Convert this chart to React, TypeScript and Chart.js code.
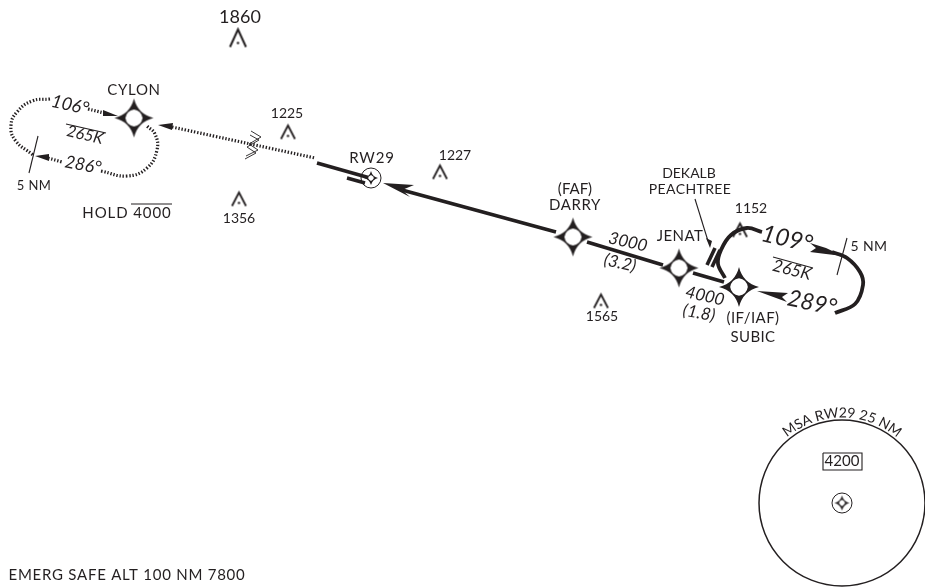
import React, { useEffect, useRef } from "react";
import { Chart, registerables } from "chart.js";

Chart.register(...registerables);

type P = [number, number];
const INK = "#231f20";
const FONT = "Lato, 'Noto Sans', sans-serif";

// ---- values (in plan-view units) ----
const waypoints: P[] = [[134, 118], [573, 237], [679, 268]];
const subic: P[] = [[739, 287]];
const rwFix: P[] = [[371, 178]];
const msaFix: P[] = [[842, 503]];
const msaCircle: P[] = [[842, 503]];
const bigObstacle: P[] = [[238, 38]];
const obstacles: P[] = [[288, 132], [239, 199], [440, 172], [601, 301], [740, 230]];

const holdWestOutbound: P[] = [[50, 99], [32, 101], [17, 112], [11, 125], [15, 140], [33, 155]];
const holdWestOutboundEnd: P[] = [[88, 109], [104, 113]];
const holdWestInboundStart: P[] = [[48, 158], [62, 162]];
const holdWestInbound: P[] = [[101, 171], [127, 176], [147, 168], [157, 150], [155, 134], [147, 126]];
const inboundDotted: P[] = [[172, 127], [315, 158]];
const finalLeg: P[] = [[317, 163], [370, 178]];
const stub: P[] = [[347, 178], [365, 183]];
const dotted: P[][] = [holdWestOutbound, holdWestOutboundEnd, holdWestInboundStart, holdWestInbound, inboundDotted];

const legToRw: P[] = [[402, 190], [556, 232]];
const legDarryJenat: P[] = [[587, 242], [663, 265]];
const legJenatSubic: P[] = [[693, 273], [724, 282]];
const airwayA: P[] = [[707, 265], [715, 248]];
const airwayB: P[] = [[712, 267], [720, 250]];
const solid: P[][] = [finalLeg, stub, legToRw, legDarryJenat, legJenatSubic, airwayA, airwayB];

const holdEastTurn: P[] = [[762, 232], [747, 228], [731, 235], [721, 250], [718, 264], [725, 278]];
const holdEastFar: P[] = [[832, 252], [847, 258], [860, 272], [863, 285], [855, 304], [835, 313]];
const curves: P[][] = [holdEastTurn, holdEastFar];

const tickWest: P[] = [[38, 136], [29, 173]];
const tickEast: P[] = [[847, 238], [837, 275]];
const leader: P[] = [[695, 199], [708, 241]];
const overWest: P[] = [[66, 124], [106, 133]];
const overEast: P[] = [[773, 257], [813, 268]];
const overHold: P[] = [[131, 204], [172, 204]];
const thin: P[][] = [tickWest, tickEast, leader, overWest, overEast, overHold];

const zigA: P[] = [[251, 131], [261, 137], [249, 144], [258, 150], [246, 156]];
const zigB: P[] = [[250, 135], [259, 140], [247, 147], [256, 153], [245, 159]];

const heads: P[][] = [
  [[103, 110], [118, 116], [103, 116]],
  [[35, 156], [49, 154], [49, 161]],
  [[158, 125], [173, 123], [172, 130]],
  [[383, 183], [414, 185], [402, 190], [410, 197]],
  [[810, 243], [826, 248], [843, 256], [826, 254], [810, 252], [816, 248]],
  [[757, 291], [788, 293], [782, 297], [787, 302]],
  [[710, 248], [706, 238], [712, 241]],
];

const texts = ["1860", "CYLON", "106°", "265K", "286°", "5 NM", "HOLD 4000", "1356", "1225", "RW29", "1227",
  "(FAF)", "DARRY", "3000", "(3.2)", "JENAT", "DEKALB", "PEACHTREE", "1565", "4000", "(1.8)", "1152", "109°",
  "5 NM", "265K", "289°", "(IF/IAF)", "SUBIC", "EMERG SAFE ALT 100 NM 7800", "4200"];
const textAt: P[] = [[240, 17], [134, 90], [70, 105], [85, 135], [83, 165], [34, 186], [127, 213], [239, 218],
  [287, 113], [372, 158], [455, 155], [575, 189], [575, 205], [628, 242], [620, 263], [680, 236], [689, 173],
  [690, 189], [602, 316], [705, 296], [699, 313], [751, 208], [787, 239], [869, 246], [792, 270], [812, 303],
  [753, 318], [753, 337], [127, 575], [842, 461]];
const textSize = [18, 15, 18, 16, 17.5, 13, 15, 14, 14, 15, 14, 15, 15, 17, 17, 15, 14, 14, 14, 17, 17, 14, 24, 14, 17, 23, 15, 15, 15, 15];
const textTilt = [0, 0, 13, 13, 10, 0, 0, 0, 0, 0, 0, 0, 0, 13, 13, 0, 0, 0, 0, 13, 10, 0, 13, 0, 14, 12, 0, 0, 0, 0];
const textItalic = [2, 3, 4, 13, 14, 19, 20, 22, 24, 25];
const textSpacing = [0, 0.7, 0, 0, 0, 0.4, 0.9, 0, 0, 0.8, 0, 0, 0.6, 0, 0, 0.4, 0, 0.4, 0, 0, 0, 0, 0, 0.4, 0, 0, 0.4, 0.4, 0.75, 0];
const msaArcText = "MSA RW29 25 NM";
const msaBox: P[] = [[823, 453], [862, 453], [862, 470], [823, 470], [823, 453]];

// ---- symbols ----
function makeStar(r: number, small = false): HTMLCanvasElement {
  const s = Math.ceil(r * 2 + 4);
  const c = document.createElement("canvas");
  c.width = s;
  c.height = s;
  const g = c.getContext("2d")!;
  g.translate(s / 2, s / 2);
  const diamond = (v: number, k: number) => {
    g.beginPath();
    g.moveTo(0, -v);
    g.quadraticCurveTo(k, -k, v, 0);
    g.quadraticCurveTo(k, k, 0, v);
    g.quadraticCurveTo(-k, k, -v, 0);
    g.quadraticCurveTo(-k, -k, 0, -v);
    g.closePath();
    g.fill();
  };
  g.fillStyle = INK;
  diamond(r, r * 0.2);
  g.fillStyle = "#fff";
  diamond(r * (small ? 0.42 : 0.44), r * (small ? 0.28 : 0.38));
  return c;
}

function makeObstacle(w: number, h: number, lw: number): HTMLCanvasElement {
  const c = document.createElement("canvas");
  c.width = w + 4;
  c.height = h + 4;
  const g = c.getContext("2d")!;
  g.translate(2, 2);
  g.strokeStyle = INK;
  g.lineWidth = lw;
  g.beginPath();
  g.moveTo(0.5, h - 0.5);
  g.lineTo(w / 2, 1);
  g.lineTo(w - 0.5, h - 0.5);
  g.stroke();
  g.fillStyle = INK;
  g.beginPath();
  g.arc(w / 2, h * 0.76, 1.2, 0, Math.PI * 2);
  g.fill();
  return c;
}

const asXY = (pts: P[]) => pts.map(([x, y]) => ({ x, y }));

const labelPlugin = {
  id: "planLabels",
  afterDatasetsDraw(chart: any) {
    const { ctx, scales } = chart;
    const X = scales.x;
    const Y = scales.y;
    ctx.save();
    ctx.fillStyle = INK;
    ctx.textAlign = "center";
    ctx.textBaseline = "middle";
    texts.forEach((t, i) => {
      const [x, y] = textAt[i];
      ctx.save();
      ctx.translate(X.getPixelForValue(x), Y.getPixelForValue(y));
      ctx.rotate((textTilt[i] * Math.PI) / 180);
      ctx.font = `${textItalic.includes(i) ? "italic " : ""}${textSize[i]}px ${FONT}`;
      ctx.letterSpacing = `${textSpacing[i]}px`;
      ctx.fillText(t, 0, 0);
      ctx.restore();
    });
    // MSA heading set along the circle
    const cx = X.getPixelForValue(msaCircle[0][0]);
    const cy = Y.getPixelForValue(msaCircle[0][1]);
    const R = 90;
    ctx.font = `14px ${FONT}`;
    const total = ctx.measureText(msaArcText).width + msaArcText.length * 0.4;
    let run = -total / 2;
    for (const ch of msaArcText) {
      const w = ctx.measureText(ch).width + 0.4;
      const a = (run + w / 2) / R;
      ctx.save();
      ctx.translate(cx + R * Math.sin(a), cy - R * Math.cos(a));
      ctx.rotate(a);
      ctx.fillText(ch, 0, 0);
      ctx.restore();
      run += w;
    }
    ctx.restore();
  },
};

export default function App() {
  const ref = useRef<HTMLCanvasElement>(null);
  useEffect(() => {
    const line = (pts: P[], width: number, extra: object = {}) => ({
      data: asXY(pts), showLine: true, borderColor: INK, borderWidth: width, pointRadius: 0, borderCapStyle: "butt", fill: false, clip: false, ...extra,
    });
    const mark = (pts: P[], style: any) => ({ data: asXY(pts), showLine: false, pointStyle: style, pointRadius: 10, pointBorderWidth: 0, clip: false });
    const datasets: any[] = [
      mark(waypoints, makeStar(19.5)),
      mark(subic, makeStar(20)),
      mark(rwFix, makeStar(7, true)),
      mark(msaFix, makeStar(7.5, true)),
      mark(bigObstacle, makeObstacle(17, 19, 2)),
      mark(obstacles, makeObstacle(15, 15, 1.8)),
      { data: asXY(msaCircle), showLine: false, clip: false, pointRadius: 83, pointBorderColor: INK, pointBorderWidth: 1.5, pointBackgroundColor: "rgba(0,0,0,0)", pointStyle: "circle" },
      { data: asXY(msaFix), showLine: false, clip: false, pointRadius: 10, pointBorderColor: INK, pointBorderWidth: 1, pointBackgroundColor: "rgba(0,0,0,0)", pointStyle: "circle" },
      { data: asXY(rwFix), showLine: false, clip: false, pointRadius: 10, pointBorderColor: INK, pointBorderWidth: 1, pointBackgroundColor: "rgba(0,0,0,0)", pointStyle: "circle" },
      ...heads.map((h) => ({ data: asXY(h), showLine: true, borderWidth: 0, pointRadius: 0, fill: "shape", backgroundColor: INK, borderColor: INK, clip: false })),
      ...dotted.map((d) => line(d, 3.2, { borderDash: [1.4, 1.8], tension: 0.45 })),
      ...solid.map((d) => line(d, 3.6)),
      ...curves.map((d) => line(d, 3.8, { tension: 0.35 })),
      ...thin.map((d) => line(d, 1.1)),
      line(msaBox, 1.1),
      line(zigA, 0.9),
      line(zigB, 0.9),
    ];
    const chart = new Chart(ref.current!, {
      type: "scatter",
      data: { datasets },
      options: {
        animation: false,
        responsive: false,
        devicePixelRatio: 1,
        layout: { padding: 0, autoPadding: false },
        events: [],
        plugins: { legend: { display: false }, tooltip: { enabled: false }, title: { display: false } },
        scales: {
          x: { type: "linear", min: 0, max: 925, display: false },
          y: { type: "linear", min: 0, max: 588, reverse: true, display: false },
        },
      },
      plugins: [labelPlugin],
    } as any);
    return () => chart.destroy();
  }, []);
  return (
    <canvas
      ref={ref}
      width={925}
      height={588}
      style={{ position: "fixed", left: 0, top: 0, width: 925, height: 588, background: "#fff" }}
    />
  );
}
